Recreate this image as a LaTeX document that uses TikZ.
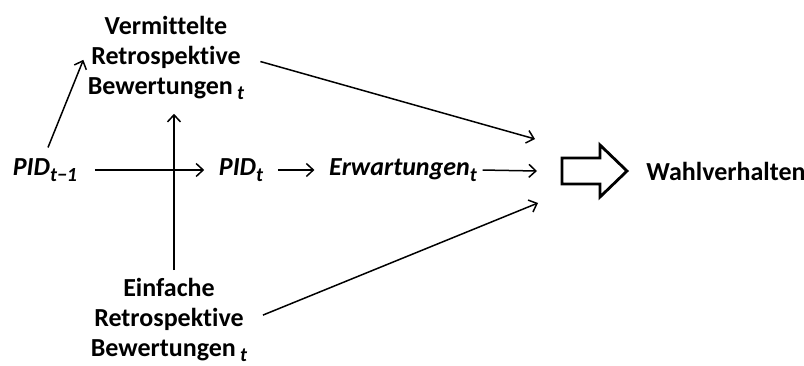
\documentclass[tikz,border=0pt]{standalone}
\usepackage{fontspec}
\setmainfont{Carlito}[Ligatures=NoCommon]
\usepackage{tikz}
\usetikzlibrary{arrows.meta}
\newcommand{\lowidx}[1]{\raisebox{-0.45ex}{\fontsize{20}{20}\selectfont\bfseries\itshape #1}}
\tikzset{every picture/.style={line width=1.5pt}}
\tikzset{
  txt/.style={font=\fontsize{26}{30}\selectfont\bfseries, align=center, inner sep=3pt},
  var/.style={font=\fontsize{26}{30}\selectfont\bfseries\itshape, inner sep=3pt},
  pfeil/.style={-{Straight Barb[length=7pt,width=13pt,line width=1.5pt]}},
  kurz/.style={pfeil, shorten <=11pt, shorten >=11pt},
  blockpfeil/.style={line width=2.8pt, fill=white, line join=miter}
}

\begin{document}
\begin{tikzpicture}[x=1pt,y=1pt,yscale=-1,xscale=1]
	\useasboundingbox (0,0) rectangle (804,366);
	
	%Text nodes
	\node [txt] (vrb) at (166,58) {Vermittelte\\Retrospektive\\Bewertungen\,\lowidx{t}};
	\node [txt] (erb) at (169,320) {Einfache\\Retrospektive\\Bewertungen\,\lowidx{t}};
	\node [var] (pid0) at (45,170) {PID\lowidx{t−1}};
	\node [var] (pid1) at (241,170) {PID\lowidx{t}};
	\node [var] (erw) at (403,170) {Erwartungen\lowidx{t}};
	\node [txt] (wahl) at (726,171) {Wahlverhalten};
	
	%Arrow ends
	\coordinate (zo) at (535,139);
	\coordinate (zm) at (537,171);
	\coordinate (zu) at (538,203);
	\coordinate (blk) at (562,171);
	
	%Straight Lines
	\draw [pfeil, shorten <=8pt, shorten >=2pt] (pid0.north) -- (vrb.west);
	\draw [pfeil, shorten <=14pt, shorten >=11pt] (pid0.east) -- (pid1.west);
	\draw [pfeil, shorten <=4pt, shorten >=10pt] ([xshift=5pt]erb.north) -- ([xshift=8pt]vrb.south);
	\draw [kurz] (pid1.east) -- (erw.west);
	\draw [pfeil, shorten <=2pt] (erw.east) -- (zm);
	\draw [pfeil, shorten <=13pt] (vrb.east) -- (zo);
	\draw [pfeil, shorten <=13pt] (erb.east) -- (zu);
	
	%Block arrow
	\draw [blockpfeil] (blk) -- ++(0,-13) -- ++(38,0) -- ++(0,-13) -- ++(27,26) -- ++(-27,26) -- ++(0,-13) -- ++(-38,0) -- cycle;
	
\end{tikzpicture}
\end{document}
